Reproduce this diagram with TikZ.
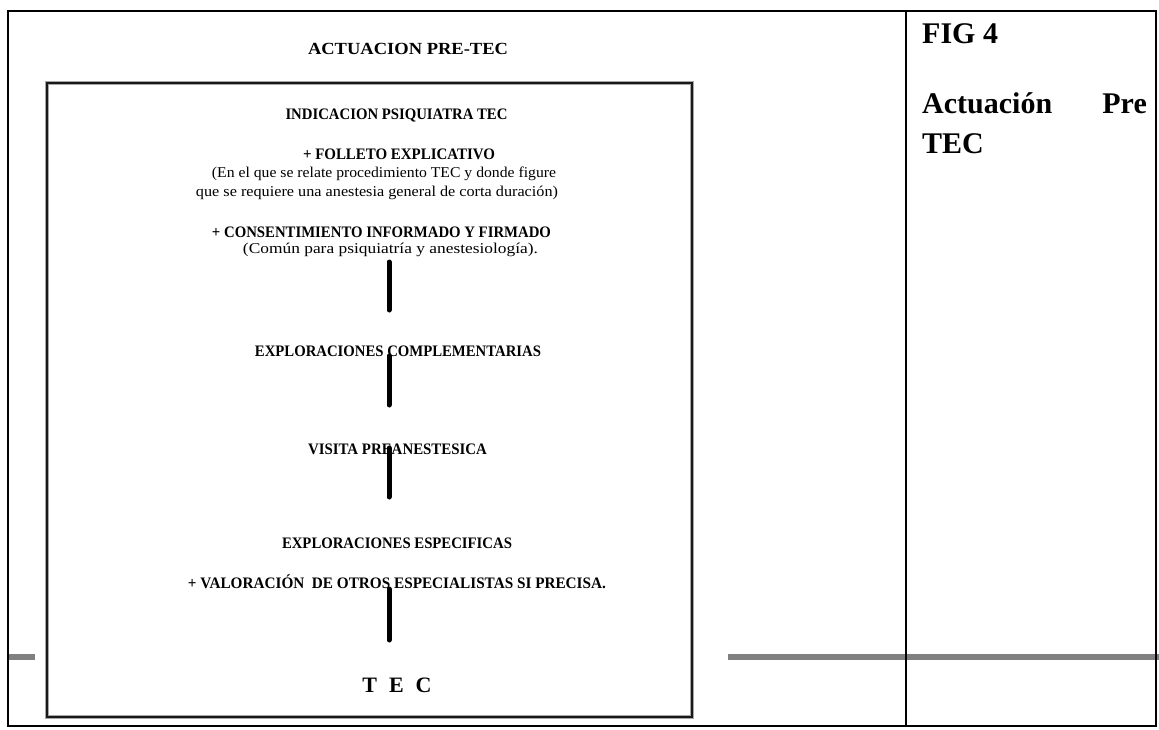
\documentclass[tikz,border=0pt]{standalone}
\usepackage{fontspec}
\setmainfont{Liberation Serif}
\usepackage{graphicx}
\newcommand\fitw[2]{\resizebox{#1pt}{\height}{#2}}
\tikzset{
  lbl/.style={anchor=base, inner sep=0pt, outer sep=0pt},
  hb/.style={lbl, font=\fontsize{16}{16}\selectfont\bfseries},
  rg/.style={lbl, font=\fontsize{15}{15}\selectfont},
  bar/.style={line width=5pt, line cap=round, black},
  frame/.style={line width=2.2pt, black},
  grayrule/.style={draw=black!50, line width=6pt},
  side/.style={inner sep=0pt, font=\fontsize{30}{30}\selectfont\bfseries},
}
\begin{document}
\begin{tikzpicture}[x=1pt,y=-1pt]
\fill[white] (0,0) rectangle (1159,729);
\useasboundingbox (0,0) rectangle (1159,729);
% gray rules
\draw[grayrule] (9,657) -- (35,657);
\draw[grayrule] (728,657) -- (1159,657);
% outer table
\draw[frame] (8,11) rectangle (1156,726);
\draw[frame] (906,11) -- (906,726);
% inner box
\draw[line width=4.5pt, black!35] (47,83) rectangle (692,717);
\draw[line width=2.6pt, black!90] (47,83) rectangle (692,717);
% title
\node[hb, font=\fontsize{17}{17}\selectfont\bfseries] (t0) at (408,54) {\fitw{200}{ACTUACION PRE-TEC}};
% texts
\node[hb] (n1) at (396.5,119) {\fitw{222}{INDICACION PSIQUIATRA TEC}};
\node[hb] (n2) at (399,159) {\fitw{192}{+ FOLLETO EXPLICATIVO}};
\node[rg] (n3) at (384,177) {\fitw{344}{(En el que se relate procedimiento TEC y donde figure}};
\node[rg] (n4) at (377,196) {\fitw{362}{que se requiere una anestesia general de corta duración)}};
\node[hb] (n5) at (381.5,237) {\fitw{339}{+ CONSENTIMIENTO INFORMADO Y FIRMADO}};
\node[rg] (n6) at (390.5,253) {\fitw{295}{(Común para psiquiatría y anestesiología).}};
\node[hb] (n7) at (398,356) {\fitw{286}{EXPLORACIONES COMPLEMENTARIAS}};
\node[hb] (n8) at (397.5,454) {\fitw{179}{VISITA PREANESTESICA}};
\node[hb] (n9) at (397,548) {\fitw{230}{EXPLORACIONES ESPECIFICAS}};
\node[hb] (n10) at (397,588) {\fitw{418}{+ VALORACIÓN\ \ DE OTROS ESPECIALISTAS SI PRECISA.}};
\node[lbl, font=\fontsize{22}{22}\selectfont\bfseries] (n11) at (397,692) {T\hspace{12pt}E\hspace{12pt}C};
% connectors
\coordinate (b1s) at (389,262); \coordinate (b1e) at (389,310);
\coordinate (b2s) at (389,356); \coordinate (b2e) at (389,405);
\coordinate (b3s) at (389,448); \coordinate (b3e) at (389,497);
\coordinate (b4s) at (389,589); \coordinate (b4e) at (389,640);
\draw[bar] (b1s) -- (b1e);
\draw[bar] (b2s) -- (b2e);
\draw[bar] (b3s) -- (b3e);
\draw[bar] (b4s) -- (b4e);
% right column
\node[side, anchor=base west] (f1) at (922,43) {FIG 4};
\node[side, anchor=base west] (f2) at (922,113) {Actuación};
\node[side, anchor=base east] (f3) at (1147,113) {Pre};
\node[side, anchor=base west] (f4) at (922,153) {TEC};
\end{tikzpicture}
\end{document}
